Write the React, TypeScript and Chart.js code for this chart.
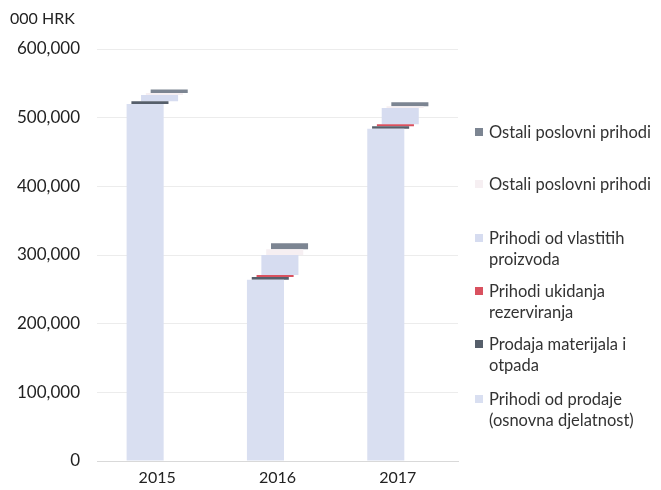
import React, { useEffect, useRef } from "react";
import { Chart, registerables } from "chart.js";

Chart.register(...registerables);

const years = ["2015", "2016", "2017"];
// segment amounts (000 HRK), stacked as a waterfall
const prihodiProdaje = [520000, 264000, 484000];
const prodajaMaterijala = [4000, 4000, 3500];
const ukidanjaRezerviranja = [0, 3000, 3000];
const vlastitihProizvoda = [9000, 29000, 23500];
const ostaliSvijetli = [3000, 8500, 2500];
const ostaliTamni = [5000, 8500, 6000];
const yTicks = [0, 100000, 200000, 300000, 400000, 500000, 600000];

const seriesNames = [
  "Prihodi od prodaje (osnovna djelatnost)",
  "Prodaja materijala i otpada",
  "Prihodi ukidanja rezerviranja",
  "Prihodi od vlastitih proizvoda",
  "Ostali poslovni prihodi",
  "Ostali poslovni prihodi",
];
const seriesColors = ["#d9dff1", "#565f6b", "#d9515f", "#d6dcf0", "#f6eff2", "#7c8592"];

const legendItems = [
  { lines: ["Ostali poslovni prihodi"], color: "#7c8592", top: 122 },
  { lines: ["Ostali poslovni prihodi"], color: "#f6eff2", top: 174 },
  { lines: ["Prihodi od vlastitih", "proizvoda"], color: "#d6dcf0", top: 228 },
  { lines: ["Prihodi ukidanja", "rezerviranja"], color: "#d9515f", top: 281 },
  { lines: ["Prodaja materijala i", "otpada"], color: "#565f6b", top: 334 },
  { lines: ["Prihodi od prodaje", "(osnovna djelatnost)"], color: "#d9dff1", top: 389 },
];

function buildFloating(series: number[][]) {
  const out: number[][][] = series.map(() => []);
  for (let i = 0; i < years.length; i++) {
    let acc = 0;
    series.forEach((s, k) => {
      out[k].push([acc, acc + s[i]]);
      acc += s[i];
    });
  }
  return out;
}

export default function App() {
  const ref = useRef<HTMLCanvasElement | null>(null);
  useEffect(() => {
    if (!ref.current) return;
    const floating = buildFloating([
      prihodiProdaje,
      prodajaMaterijala,
      ukidanjaRezerviranja,
      vlastitihProizvoda,
      ostaliSvijetli,
      ostaliTamni,
    ]);
    const chart = new Chart(ref.current, {
      type: "bar",
      data: {
        labels: years,
        datasets: floating.map((d, k) => ({
          label: seriesNames[k],
          data: d as any,
          backgroundColor: seriesColors[k],
          borderWidth: 0,
          categoryPercentage: 0.24,
          barPercentage: 7.7,
        })),
      },
      options: {
        responsive: false,
        animation: false,
        layout: { padding: { left: 0, right: 203, top: 49, bottom: 3 } },
        plugins: {
          legend: { display: false },
          tooltip: { enabled: false },
          title: { display: false },
        },
        scales: {
          x: {
            grid: { display: false, drawTicks: false },
            border: { display: true, color: "#d9d9d9" },
            ticks: { font: { family: "Lato", size: 16 }, color: "#222", padding: 7 },
            afterFit: (s: any) => {
              s.height = 26;
            },
          },
          y: {
            min: 0,
            max: 600000,
            afterFit: (s: any) => {
              s.width = 97;
            },
            afterBuildTicks: (s: any) => {
              s.ticks = yTicks.map((v) => ({ value: v }));
            },
            grid: { color: "#ececec", drawTicks: false },
            border: { display: false },
            ticks: {
              font: { family: "Lato", size: 17 },
              color: "#222",
              padding: 17,
              callback: (v: any) => Number(v).toLocaleString("en-US"),
            },
          },
        },
      },
    });
    return () => chart.destroy();
  }, []);

  return (
    <div style={{ position: "fixed", left: 0, top: 0, width: 661, height: 490, background: "#fff" }}>
      <canvas ref={ref} width={661} height={490} style={{ position: "absolute", left: 0, top: 0 }} />
      <div
        style={{
          position: "absolute",
          left: 10,
          top: 8,
          fontFamily: "Lato",
          fontSize: 16,
          color: "#222",
        }}
      >
        000 HRK
      </div>
      {legendItems.map((it, i) => (
        <div
          key={i}
          style={{
            position: "absolute",
            left: 475,
            top: it.top,
            fontFamily: "Lato",
            fontSize: 16.5,
            lineHeight: "21px",
            color: "#333",
            display: "flex",
            alignItems: "flex-start",
          }}
        >
          <span
            style={{
              display: "inline-block",
              width: 8,
              height: 8,
              background: it.color,
              marginTop: 6,
              marginRight: 6,
              flex: "none",
            }}
          />
          <span>
            {it.lines.map((l, j) => (
              <div key={j}>{l}</div>
            ))}
          </span>
        </div>
      ))}
    </div>
  );
}
